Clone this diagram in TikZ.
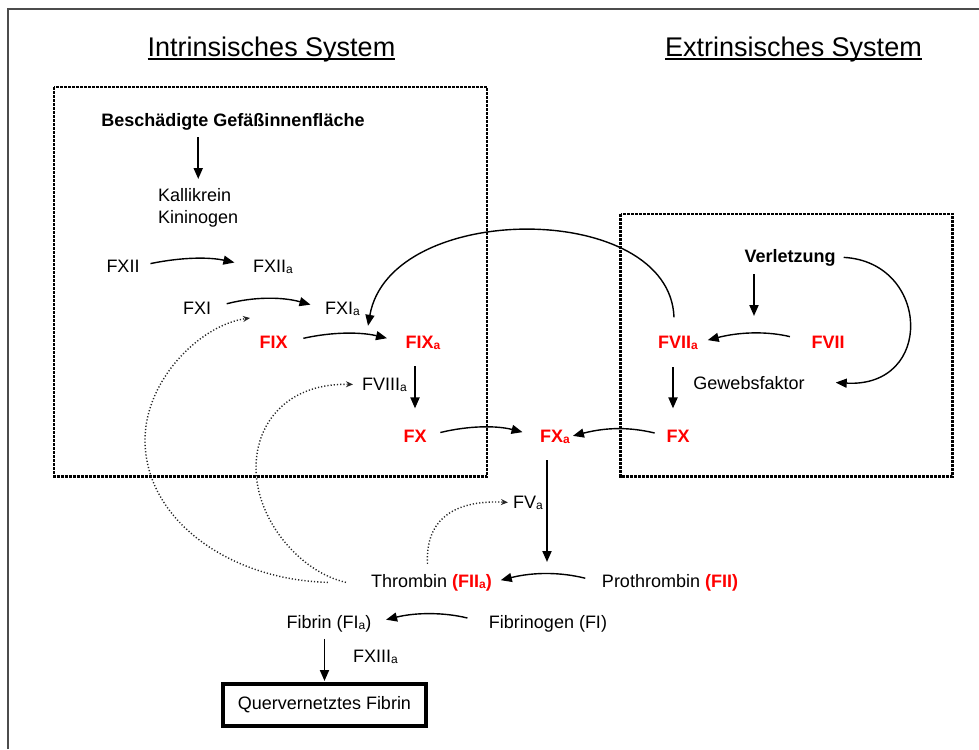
\documentclass[tikz,border=0pt]{standalone}
\usepackage{fontspec}
\setmainfont{Liberation Sans}
\usetikzlibrary{arrows.meta}
\definecolor{factred}{RGB}{255,0,0}
\newcommand{\idx}[1]{\raisebox{-1.5pt}{\fontsize{12}{12}\selectfont #1}}

\begin{document}
\begin{tikzpicture}[x=1pt, y=1pt, >={Triangle[length=11pt,width=9pt]},
  lbl/.style={inner sep=0pt, anchor=base, font=\fontsize{18}{21.6}\selectfont},
  act/.style={lbl, text=factred, font=\fontsize{18}{21.6}\selectfont\bfseries},
  cause/.style={lbl, font=\fontsize{18}{21.6}\selectfont\bfseries},
  title/.style={inner sep=0pt, anchor=base, font=\fontsize{27}{32}\selectfont},
  conv/.style={->, line width=1.4pt},
  vconv/.style={->, line width=1.9pt},
  feed/.style={-{Stealth[open,length=7pt,width=6pt]}, line width=1.4pt, dash pattern=on 1.2pt off 2pt, black!85},
  sysbox/.style={line width=2.4pt, dash pattern=on 3pt off 1pt}]
\useasboundingbox (0,0) rectangle (979,-749);
\draw[line width=1.6pt, black!70] (8,-749) -- (8,-9) -- (979,-9);

% Systeme
\node[title] (tint) at (271.5,-56.5) {Intrinsisches System};
\node[title] (text) at (793.5,-56.5) {Extrinsisches System};
\draw[line width=2pt] ([yshift=-3pt]tint.base west) -- ([yshift=-3pt]tint.base east);
\draw[line width=2pt] ([yshift=-3pt]text.base west) -- ([yshift=-3pt]text.base east);
\draw[sysbox] (54,-87) rectangle (487,-476.5);
\draw[sysbox] (620.5,-214) rectangle (952.5,-476.5);

% intrinsisch
\node[cause] (besch) at (233,-126) {Beschädigte Gefäßinnenfläche};
\node[lbl, anchor=north west, align=left] (kall) at (158,-188.5) {Kallikrein\\Kininogen};
\node[lbl] (fxii) at (123,-272) {FXII};
\node[lbl] (fxiia) at (273,-272) {FXII\idx{a}};
\node[lbl] (fxi) at (197,-314) {FXI};
\node[lbl] (fxia) at (342.5,-314) {FXI\idx{a}};
\node[act] (fix) at (273.5,-348) {FIX};
\node[act] (fixa) at (423,-348) {FIX\idx{a}};
\node[lbl] (fviiia) at (384.5,-390) {FVIII\idx{a}};
\node[act] (fxl) at (415,-442) {FX};

% extrinsisch
\node[cause] (verl) at (790,-262) {Verletzung};
\node[act] (fviia) at (678,-348) {FVII\idx{a}};
\node[act] (fvii) at (828,-348) {FVII};
\node[lbl] (gewebs) at (749,-389) {Gewebsfaktor};
\node[act] (fxr) at (678,-442) {FX};

% gemeinsamer Weg
\node[act] (fxa) at (555,-442) {FX\idx{a}};
\node[lbl] (fva) at (528,-508) {FV\idx{a}};
\node[lbl] (thromb) at (431.5,-587) {Thrombin \textcolor{factred}{\bfseries (FII\idx{a})}};
\node[lbl] (prothr) at (670,-587) {Prothrombin \textcolor{factred}{\bfseries (FII)}};
\node[lbl] (fibrin) at (329,-628) {Fibrin (FI\idx{a})};
\node[lbl] (fibrinogen) at (548,-628) {Fibrinogen (FI)};
\node[lbl] (fxiiia) at (375.5,-662) {FXIII\idx{a}};
\node[draw, line width=4pt, minimum width=203pt, minimum height=42pt, inner sep=0pt,
  font=\fontsize{18}{21.6}\selectfont] (quer) at (324.5,-705) {Quervernetztes Fibrin};

\coordinate (vtip) at (754,-316);
\coordinate (xatip) at (547,-562);
\coordinate (ixtip) at (250,-318);
\coordinate (outbend) at (145,-440);
\coordinate (inbend) at (256,-468);

\draw[vconv, shorten <=7pt, shorten >=9.5pt] (besch.south -| kall.north) -- (kall.north);
\draw[conv, shorten <=11pt, shorten >=19pt] (fxii.east) to[bend left=12] (fxiia.west);
\draw[conv, shorten <=16pt, shorten >=15pt] (fxi.east) to[bend left=15] (fxia.west);
\draw[conv, shorten <=16pt, shorten >=19pt] (fix.east) to[bend left=13] (fixa.west);
\draw[vconv, shorten <=16.5pt, shorten >=21pt] (fixa.south -| fxl.north) -- (fxl.north);
\draw[conv, shorten <=14pt, shorten >=18pt] (fxl.east) to[bend left=14] (fxa.west);
\draw[conv, shorten <=12pt, shorten >=3pt] (fxr.west) to[bend right=14] (fxa.east);
\draw[conv, shorten <=22pt, shorten >=10pt] (fvii.west) to[bend right=14] (fviia.east);
\draw[vconv, shorten <=8pt] (verl.south -| vtip) -- (vtip);
\draw[conv] ([xshift=8pt]verl.east) .. controls (930,-262) and (935,-388) .. ([xshift=31pt]gewebs.east);
\draw[vconv, shorten <=17.5pt, shorten >=21pt] ([xshift=-5pt]fviia.south) -- ([xshift=-5pt]fxr.north);
\draw[conv] ([xshift=-4pt,yshift=18pt]fviia.north) .. controls (670,-200) and (390,-200) .. ([xshift=8pt,yshift=-10pt]fxia.south east);
\draw[vconv, shorten <=16.5pt] (fxa.south -| xatip) -- (xatip);
\draw[conv, shorten <=17pt, shorten >=9pt] (prothr.west) to[bend right=14] (thromb.east);
\draw[conv, shorten <=22pt, shorten >=15pt] (fibrinogen.west) to[bend right=14] (fibrin.east);
\draw[vconv, shorten <=7pt, shorten >=1pt] (fibrin.south -| quer.north) -- (quer.north);

% Rueckkopplung Thrombin
\draw[feed] ([xshift=-43pt]thromb.west) .. controls (230,-580) and (145,-520) .. (outbend)
  .. controls (145,-380) and (200,-325) .. (ixtip);
\draw[feed, shorten >=9pt] ([xshift=-25pt]thromb.west) .. controls (300,-572) and (256,-520) .. (inbend)
  .. controls (256,-420) and (290,-383) .. (fviiia.west);
\draw[feed, shorten >=5pt] ([xshift=-4pt,yshift=10pt]thromb.north) .. controls (425,-515) and (460,-500) .. (fva.west);
\end{tikzpicture}
\end{document}
